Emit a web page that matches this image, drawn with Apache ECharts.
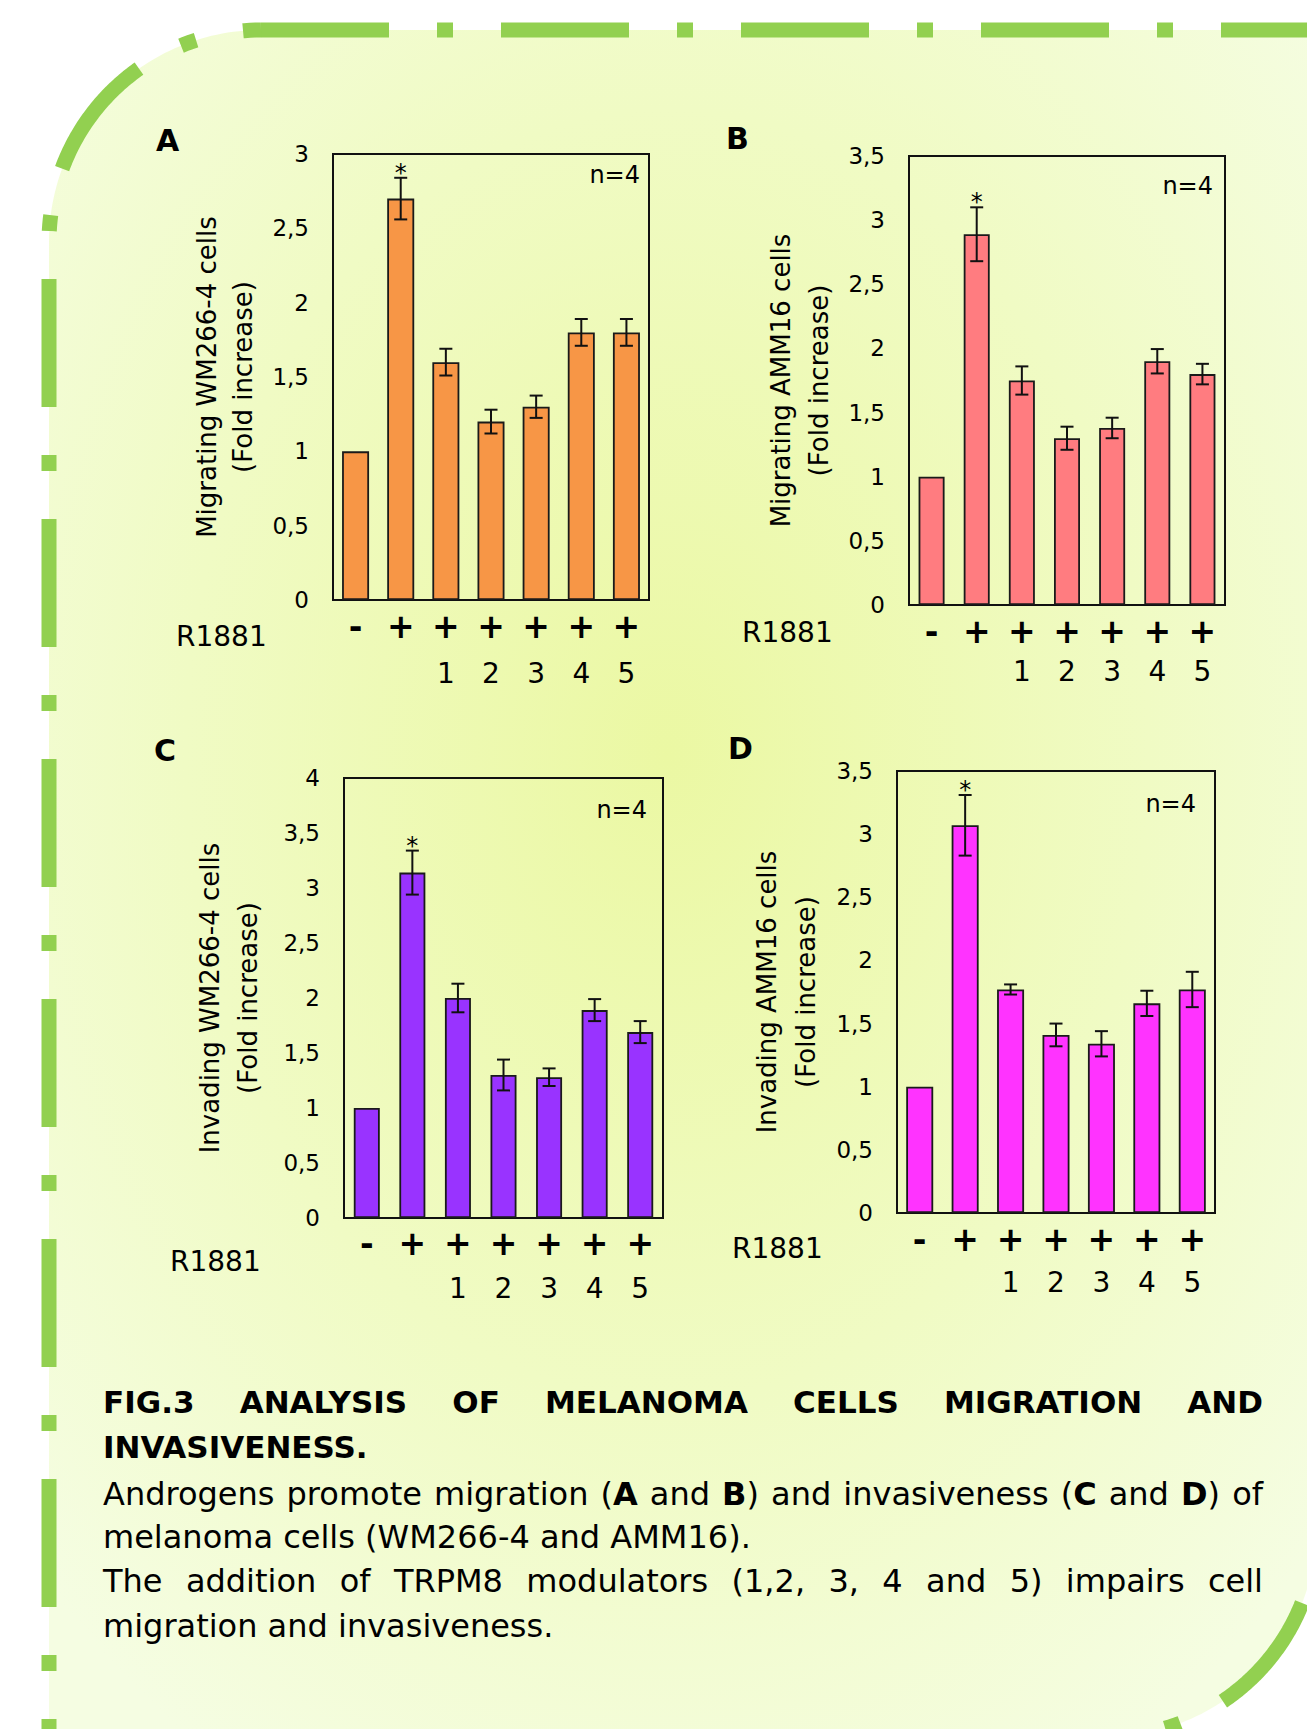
<!DOCTYPE html>
<html>
<head>
<meta charset="utf-8">
<script src="https://cdn.jsdelivr.net/npm/echarts@6/dist/echarts.min.js"></script>
<style>
html,body{margin:0;padding:0;background:#ffffff;}
#c{width:1307px;height:1729px;}
</style>
</head>
<body>
<div id="c"></div>
<script>
// ---------------- DATA ----------------
const categories = ['Control', 'R1881', 'R1881 + 1', 'R1881 + 2', 'R1881 + 3', 'R1881 + 4', 'R1881 + 5'];
const r1881Row = ['-', '+', '+', '+', '+', '+', '+'];
const modulatorRow = ['', '', '1', '2', '3', '4', '5'];
const significant = [false, true, false, false, false, false, false];

const migratingWM = [1, 2.70, 1.60, 1.20, 1.30, 1.80, 1.80];
const migratingWMErr = [0, 0.14, 0.09, 0.08, 0.075, 0.09, 0.09];

const migratingAMM = [1, 2.89, 1.75, 1.30, 1.38, 1.90, 1.80];
const migratingAMMErr = [0, 0.21, 0.11, 0.09, 0.08, 0.095, 0.08];

const invadingWM = [1, 3.14, 2.00, 1.30, 1.28, 1.89, 1.69];
const invadingWMErr = [0, 0.20, 0.13, 0.14, 0.08, 0.10, 0.10];

const invadingAMM = [1, 3.07, 1.77, 1.41, 1.34, 1.66, 1.77];
const invadingAMMErr = [0, 0.24, 0.04, 0.09, 0.10, 0.10, 0.14];

const yMaxA = 3, yMaxB = 3.5, yMaxC = 4, yMaxD = 3.5;
const yStep = 0.5;

const nLabel = 'n=4';
const captionTitle1 = 'FIG.3 ANALYSIS OF MELANOMA CELLS MIGRATION AND';
const captionTitle2 = 'INVASIVENESS.';
const captionBody1 = 'Androgens promote migration (*A* and *B*) and invasiveness (*C* and *D*) of';
const captionBody2 = 'melanoma cells (WM266-4 and AMM16).';
const captionBody3 = 'The addition of TRPM8 modulators (1,2, 3, 4 and 5) impairs cell';
const captionBody4 = 'migration and invasiveness.';

// ---------------- LAYOUT / STYLE ----------------
const FF = '"DejaVu Sans", "Liberation Sans", Arial, sans-serif';
const panels = [
  { letter: 'A', values: migratingWM, errors: migratingWMErr, yMax: yMaxA, color: '#F79646',
    name: 'Migrating WM266-4 cells\n(Fold increase)',
    grid: { left: 333, top: 154, width: 316, height: 446 }, nameGap: 72, nameLH: 36,
    labelLH: 47, labelMargin: 3, barWidth: 27,
    letterPos: [156, 140], rPos: [176, 636], nPos: [640, 175] },
  { letter: 'B', values: migratingAMM, errors: migratingAMMErr, yMax: yMaxB, color: '#FF7C80',
    name: 'Migrating AMM16 cells\n(Fold increase)',
    grid: { left: 909, top: 156, width: 316, height: 449 }, nameGap: 71, nameLH: 38,
    labelLH: 40, labelMargin: 6, barWidth: 26,
    letterPos: [726, 138], rPos: [742, 632], nPos: [1213, 186] },
  { letter: 'C', values: invadingWM, errors: invadingWMErr, yMax: yMaxC, color: '#9933FF',
    name: 'Invading WM266-4 cells\n(Fold increase)',
    grid: { left: 344, top: 778, width: 319, height: 440 }, nameGap: 77, nameLH: 38,
    labelLH: 45, labelMargin: 3, barWidth: 26,
    letterPos: [154, 750], rPos: [170, 1261], nPos: [647, 810] },
  { letter: 'D', values: invadingAMM, errors: invadingAMMErr, yMax: yMaxD, color: '#FF33FF',
    name: 'Invading AMM16 cells\n(Fold increase)',
    grid: { left: 897, top: 771, width: 318, height: 442 }, nameGap: 72, nameLH: 39,
    labelLH: 43, labelMargin: 5, barWidth: 27,
    letterPos: [728, 748], rPos: [732, 1248], nPos: [1196, 804] }
];

const grids = [], xAxes = [], yAxes = [], series = [], graphics = [];

panels.forEach((p, i) => {
  grids.push(Object.assign({
    show: true, borderColor: '#111', borderWidth: 2, backgroundColor: 'transparent',
    containLabel: false, outerBoundsMode: 'none'
  }, p.grid));
  xAxes.push({
    type: 'category', gridIndex: i, data: categories,
    axisTick: { show: false },
    axisLine: { show: true, lineStyle: { color: '#111', width: 2 } },
    axisLabel: {
      interval: 0, margin: p.labelMargin, color: '#000',
      formatter: (v, idx) => '{s|' + r1881Row[idx] + '}\n{n|' + (modulatorRow[idx] || ' ') + '}',
      rich: {
        s: { fontFamily: FF, fontWeight: 'bold', fontSize: 33, lineHeight: p.labelLH, color: '#000' },
        n: { fontFamily: FF, fontSize: 28, lineHeight: p.labelLH, color: '#000' }
      }
    },
    splitLine: { show: false }
  });
  yAxes.push({
    type: 'value', gridIndex: i, min: 0, max: p.yMax, interval: yStep,
    splitLine: { show: false },
    axisTick: { show: false },
    axisLine: { show: true, lineStyle: { color: '#111', width: 2 } },
    axisLabel: {
      margin: 24, fontSize: 23, fontFamily: FF, color: '#000',
      formatter: v => String(v).replace('.', ',')
    },
    name: p.name, nameLocation: 'middle', nameRotate: 90, nameGap: p.nameGap,
    nameMoveOverlap: false,
    nameTextStyle: { fontSize: 26, fontFamily: FF, lineHeight: p.nameLH, color: '#000', align: 'center' }
  });
  series.push({
    type: 'bar', xAxisIndex: i, yAxisIndex: i, data: p.values, barWidth: p.barWidth,
    itemStyle: { color: p.color, borderColor: '#1a1a1a', borderWidth: 1.8 },
    silent: true, animation: false
  });
  series.push({
    type: 'custom', xAxisIndex: i, yAxisIndex: i, z: 5, silent: true, animation: false,
    data: p.values.map((v, k) => [k, v, p.errors[k], significant[k] ? 1 : 0]),
    encode: { x: 0, y: 1 },
    renderItem: (params, api) => {
      const k = api.value(0), v = api.value(1), e = api.value(2), s = api.value(3);
      const children = [];
      const top = api.coord([k, v + e]);
      if (e > 0) {
        const bot = api.coord([k, v - e]);
        const cw = 6.5;
        const st = { stroke: '#111', lineWidth: 2 };
        children.push({ type: 'line', shape: { x1: top[0], y1: top[1], x2: bot[0], y2: bot[1] }, style: st });
        children.push({ type: 'line', shape: { x1: top[0] - cw, y1: top[1], x2: top[0] + cw, y2: top[1] }, style: st });
        children.push({ type: 'line', shape: { x1: bot[0] - cw, y1: bot[1], x2: bot[0] + cw, y2: bot[1] }, style: st });
      }
      if (s) {
        children.push({ type: 'text', x: top[0], y: top[1] - 5,
          style: { text: '*', fontSize: 24, fontFamily: FF, fill: '#000', align: 'center', verticalAlign: 'middle' } });
      }
      return { type: 'group', children };
    }
  });
  graphics.push({ type: 'text', x: p.letterPos[0], y: p.letterPos[1], z: 10,
    style: { text: p.letter, fontSize: 30, fontWeight: 'bold', fontFamily: FF, fill: '#000', align: 'left', verticalAlign: 'middle' } });
  graphics.push({ type: 'text', x: p.rPos[0], y: p.rPos[1], z: 10,
    style: { text: 'R1881', fontSize: 28, fontFamily: FF, fill: '#000', align: 'left', verticalAlign: 'middle' } });
  graphics.push({ type: 'text', x: p.nPos[0], y: p.nPos[1], z: 10,
    style: { text: nLabel, fontSize: 24, fontFamily: FF, fill: '#000', align: 'right', verticalAlign: 'middle' } });
});

// ---------------- BACKGROUND SHAPE ----------------
const Xr = 1317, Yb = 1737, R = 212, L = 49, T = 30;
function arcPts(cx, cy, r, a0, a1, n) {
  const pts = [];
  for (let j = 0; j <= n; j++) {
    const a = (a0 + (a1 - a0) * j / n) * Math.PI / 180;
    pts.push([cx + r * Math.cos(a), cy + r * Math.sin(a)]);
  }
  return pts;
}
const tlArc = arcPts(L + R, T + R, R, 180, 270, 60);    // (49,242) -> (261,30)
const brArc = arcPts(Xr - R, Yb - R, R, 0, 90, 60);     // (1317,1525) -> (1105,1737)
const fillPts = [[L, Yb + 20]].concat(tlArc, [[Xr + 20, T]], brArc, [[L, Yb + 20]]);
graphics.unshift({
  type: 'polygon', z: -10, silent: true,
  shape: { points: fillPts },
  style: {
    fill: {
      type: 'radial', x: 0.48, y: 0.42, r: 0.68, global: false,
      colorStops: [
        { offset: 0, color: '#EBF8A3' },
        { offset: 0.55, color: '#F0FBC4' },
        { offset: 1, color: '#F5FDE2' }
      ]
    },
    stroke: null
  }
});
const dash = [128, 48, 16, 48];
const borderStyle = (off) => ({ fill: null, stroke: '#92D050', lineWidth: 15, lineDash: dash, lineDashOffset: off, lineCap: 'butt', lineJoin: 'round' });
graphics.push({ type: 'polyline', z: -5, silent: true, shape: { points: [[L + R, T], [Xr + 20, T]] }, style: borderStyle(0) });
graphics.push({ type: 'polyline', z: -5, silent: true, shape: { points: tlArc.slice().reverse().concat([[L, Yb + 30]]) }, style: borderStyle(110) });
graphics.push({ type: 'polyline', z: -5, silent: true, shape: { points: brArc }, style: borderStyle(160) });

// ---------------- CAPTION (justified) ----------------
const ctx = document.createElement('canvas').getContext('2d');
function measure(t, bold, size) {
  ctx.font = (bold ? 'bold ' : '') + size + 'px "DejaVu Sans"';
  return ctx.measureText(t).width;
}
function parseWords(str, allBold) {
  return str.split(' ').map(w => {
    if (allBold) return [[w, true]];
    const parts = w.split('*');
    const segs = [];
    parts.forEach((pt, idx) => { if (pt.length) segs.push([pt, idx % 2 === 1]); });
    return segs;
  });
}
const capLeft = 103, capRight = 1263;
const captionLines = [
  { text: captionTitle1, bold: true, size: 31, y: 1402, justify: true },
  { text: captionTitle2, bold: true, size: 31, y: 1447, justify: false },
  { text: captionBody1, bold: false, size: 32, y: 1494, justify: true },
  { text: captionBody2, bold: false, size: 32, y: 1537, justify: false },
  { text: captionBody3, bold: false, size: 32, y: 1581, justify: true },
  { text: captionBody4, bold: false, size: 32, y: 1626, justify: false }
];
captionLines.forEach(line => {
  const words = parseWords(line.text, line.bold);
  const widths = words.map(segs => segs.reduce((s, sg) => s + measure(sg[0], sg[1], line.size), 0));
  const total = widths.reduce((a, b) => a + b, 0);
  const gap = line.justify ? (capRight - capLeft - total) / (words.length - 1) : measure(' ', line.bold, line.size);
  let x = capLeft;
  words.forEach((segs, wi) => {
    let sx = x;
    segs.forEach(sg => {
      graphics.push({ type: 'text', x: sx, y: line.y, z: 10, silent: true,
        style: { text: sg[0], fontSize: line.size, fontWeight: sg[1] ? 'bold' : 'normal', fontFamily: FF,
                 fill: '#000', align: 'left', verticalAlign: 'middle' } });
      sx += measure(sg[0], sg[1], line.size);
    });
    x += widths[wi] + gap;
  });
});

const chart = echarts.init(document.getElementById('c'), null, { renderer: 'svg', width: 1307, height: 1729 });
chart.setOption({
  animation: false,
  backgroundColor: '#ffffff',
  textStyle: { fontFamily: FF },
  grid: grids,
  xAxis: xAxes,
  yAxis: yAxes,
  series: series,
  graphic: { elements: graphics }
});
</script>
</body>
</html>
